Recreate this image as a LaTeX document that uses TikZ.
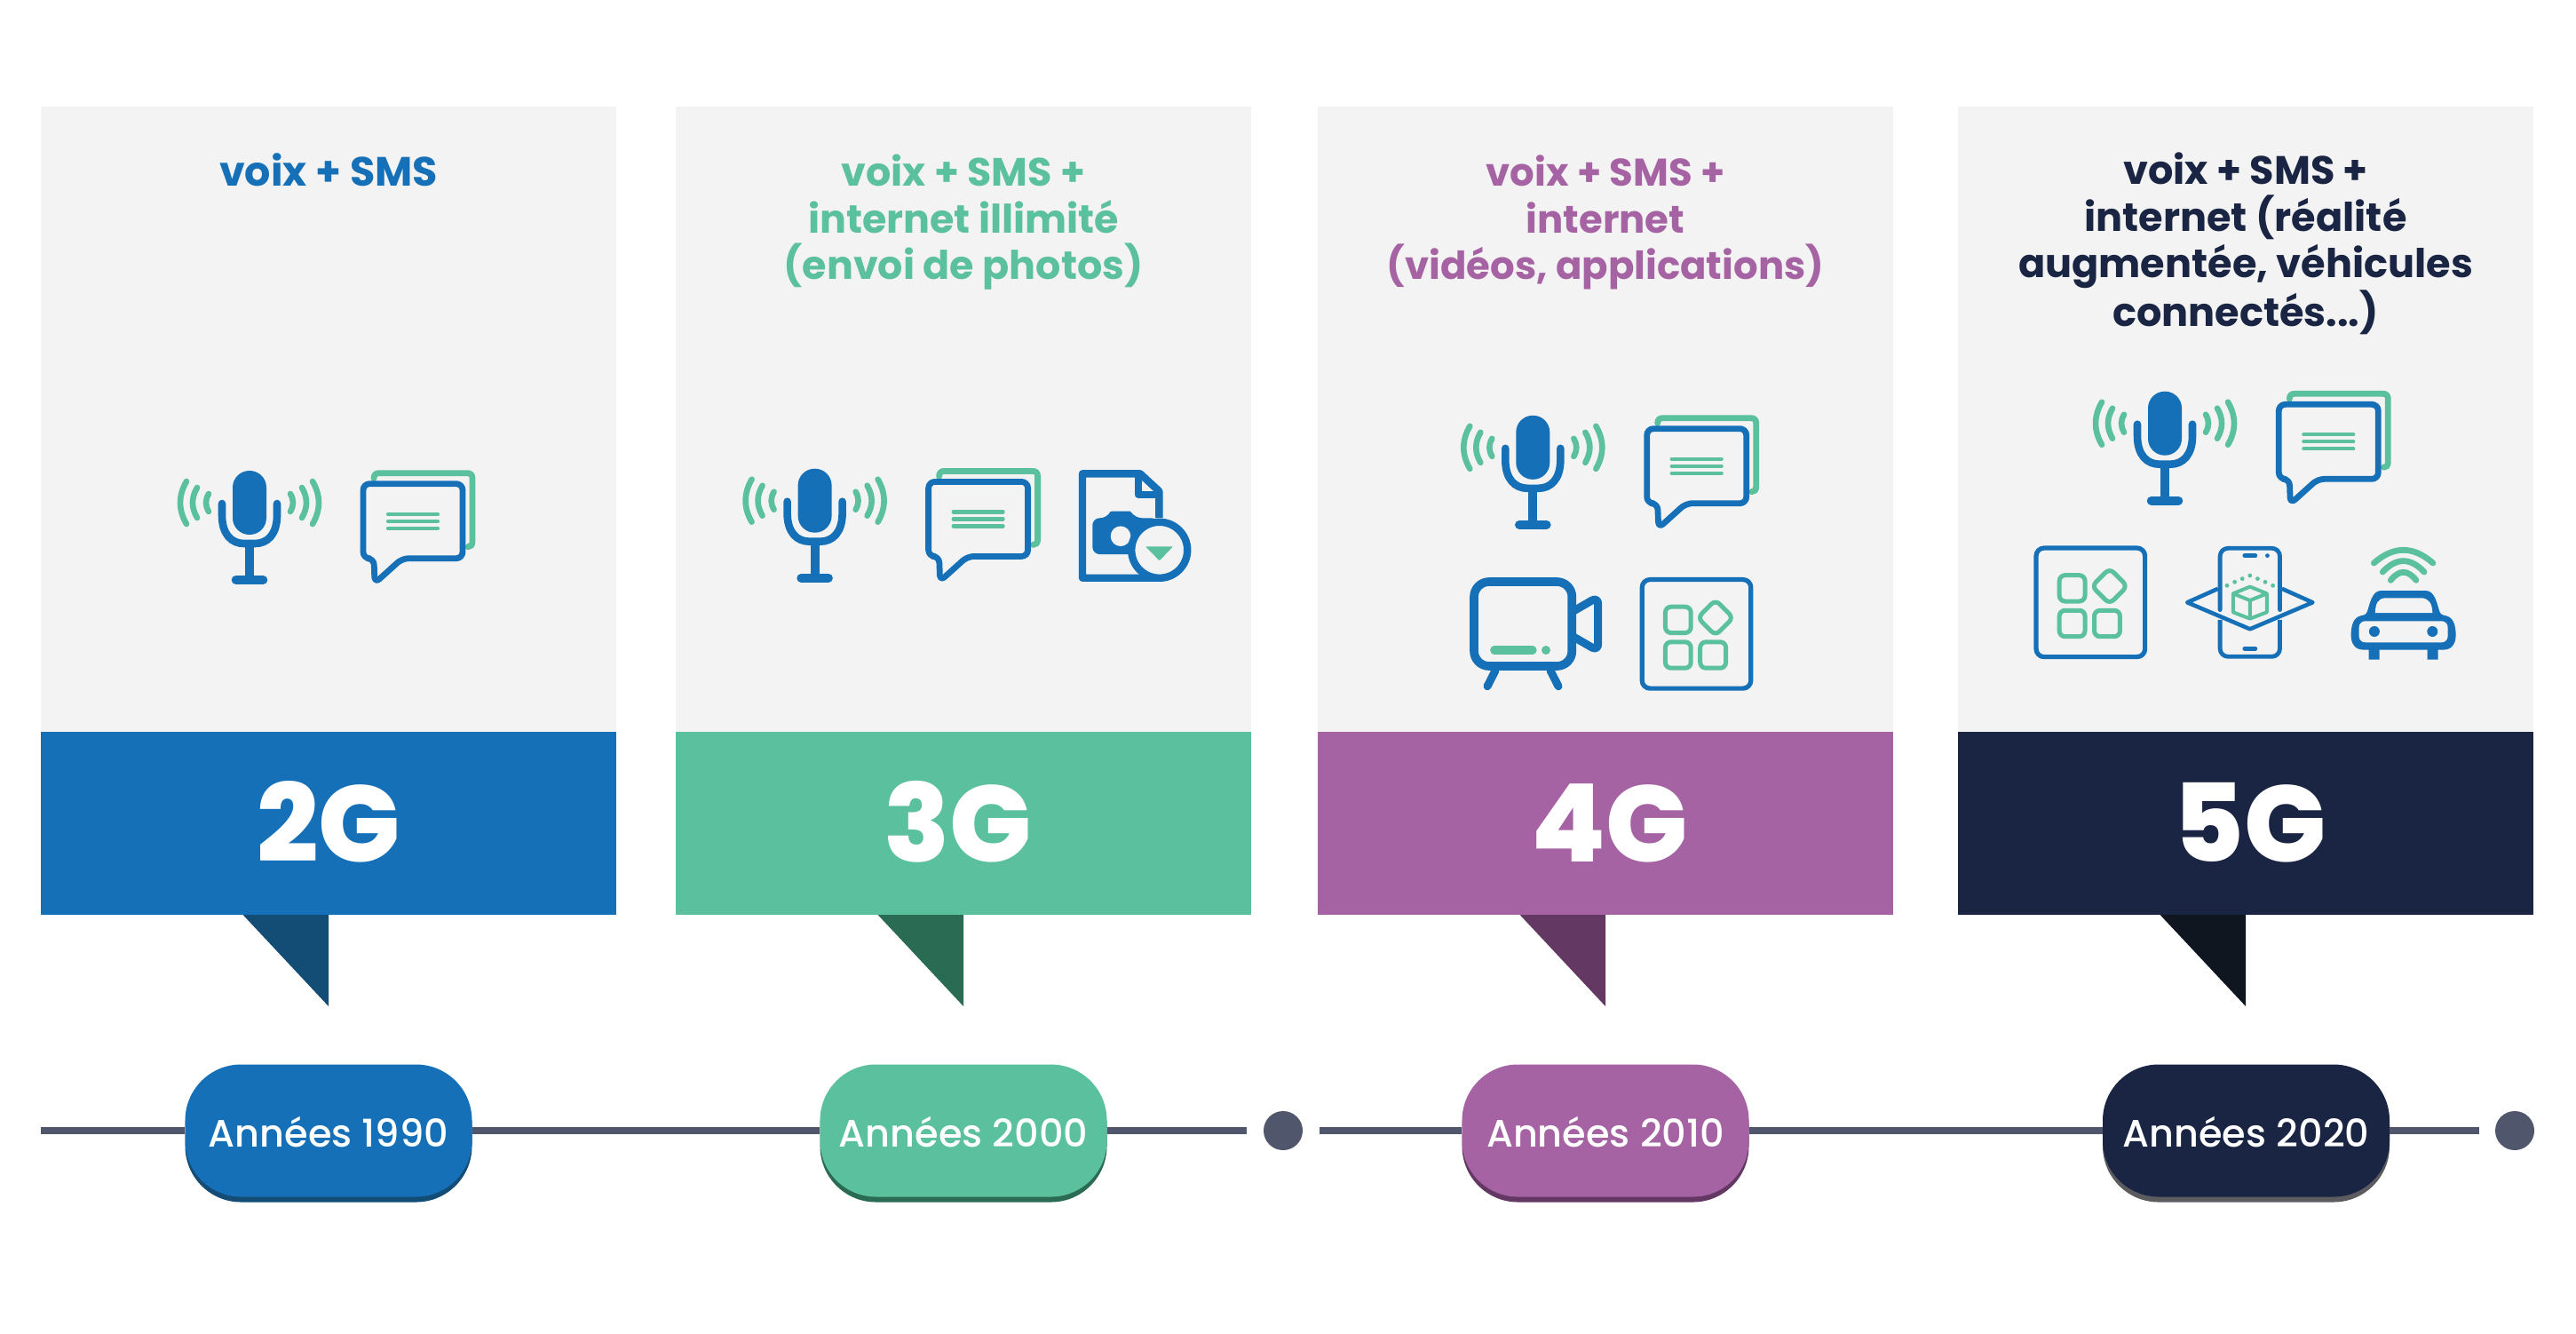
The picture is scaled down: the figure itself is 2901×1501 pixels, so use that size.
\documentclass[tikz,border=0pt]{standalone}
\usepackage{fontspec}
\setmainfont{Poppins}[BoldFont={Poppins Bold}]
\newfontfamily\medfont{Poppins Medium}
\newfontfamily\genfont{Poppins ExtraBold}
\definecolor{cblue}{HTML}{1570B7}
\definecolor{cgreen}{HTML}{5BC09D}
\definecolor{cpurple}{HTML}{A663A3}
\definecolor{cnavy}{HTML}{1A2544}
\definecolor{dblue}{HTML}{134C75}
\definecolor{dgreen}{HTML}{2A6B53}
\definecolor{dpurple}{HTML}{633963}
\definecolor{dnavy}{HTML}{10161F}
\definecolor{shadownavy}{HTML}{5C5C60}
\definecolor{panelgray}{HTML}{F3F3F3}
\definecolor{linegray}{HTML}{50566B}
\tikzset{
  x=0.5pt,y=-0.5pt,
  panelbox/.style={draw=none,fill=panelgray,inner sep=0pt,minimum width=324pt,minimum height=352pt,anchor=north west},
  barbox/.style={draw=none,inner sep=0pt,minimum width=324pt,minimum height=103.25pt,anchor=north west},
  pillbox/.style={draw=none,rounded corners=31.5pt,inner sep=0pt,minimum width=161.5pt,minimum height=74.5pt,text=white,
     font=\medfont\fontsize{21.5}{24}\selectfont,text height=18.4pt,text depth=0pt},
  gentext/.style={text=white,anchor=base,inner sep=0pt,font=\genfont\fontsize{61}{63}\selectfont},
  titletext/.style={anchor=base,align=center,inner sep=0pt},
  timeline/.style={draw=linegray,line width=4pt},
  dotnode/.style={circle,fill=linegray,draw=none,inner sep=0pt,minimum size=22pt},
  micicon/.pic={
    \draw[cgreen,line width=3.3pt,line cap=round]
      (-71,-24) .. controls (-80.3,-8) and (-80.3,8) .. (-71,24)
      (71,-24) .. controls (80.3,-8) and (80.3,8) .. (71,24);
    \draw[cgreen,line width=3.3pt,line cap=round]
      (-59,-17) .. controls (-65.7,-5.5) and (-65.7,5.5) .. (-59,17)
      (59,-17) .. controls (65.7,-5.5) and (65.7,5.5) .. (59,17);
    \draw[cgreen,line width=3.3pt,line cap=round]
      (-46,-10) .. controls (-50,-3) and (-50,3) .. (-46,10)
      (46,-10) .. controls (50,-3) and (50,3) .. (46,10);
    \fill[cblue,rounded corners=9.4pt] (-19,-36) rectangle (19,36);
    \draw[cblue,line width=4.3pt,line cap=round]
      (-31,1) -- (-31,14) .. controls (-31,36) and (-20,46) .. (-6,46) -- (6,46)
      .. controls (20,46) and (31,36) .. (31,14) -- (31,1);
    \draw[cblue,line width=5pt] (0,46) -- (0,87);
    \draw[cblue,line width=5pt,line cap=round] (-15.3,87) -- (15.3,87);
  },
  smsicon/.pic={
    \draw[cgreen,line width=3.4pt,line cap=round]
      (12,-6) .. controls (12,-10) and (14,-12) .. (18,-12) -- (117,-12)
      .. controls (121,-12) and (123,-10) .. (123,-6) -- (123,65)
      .. controls (123,69) and (121,71) .. (118,71);
    \draw[cblue,line width=3.4pt,line join=round,rounded corners=3.6pt]
      (0,0) -- (112,0) -- (112,84) -- (44,84) -- (13,112) -- (12,84) -- (0,84) -- cycle;
    \draw[cgreen,line width=2.1pt,line cap=round]
      (28,34) -- (84,34) (28,42) -- (84,42) (28,50) -- (84,50);
  },
  appsicon/.pic={
    \draw[cblue,line width=2.6pt,rounded corners=4.5pt] (0,0) rectangle (122.6,122.6);
    \draw[cgreen,line width=2.5pt,rounded corners=3.2pt]
      (26.2,30.7) rectangle (55,60)
      (26.2,70.3) rectangle (55,99.7)
      (65.5,70.3) rectangle (94.4,99.7)
      (82.7,23) -- (102.7,43) -- (82.7,63) -- (62.7,43) -- cycle;
  },
  photoicon/.pic={
    \draw[cblue,line width=4.2pt,line join=round]
      (165.3,143) -- (165.3,113) -- (144,93.3) -- (79,93.3) -- (79,210.7) -- (165,210.7);
    \draw[cblue,line width=4.2pt,line join=round]
      (141.7,93.3) -- (141.7,116.7) -- (165.3,116.7);
    \fill[cblue,rounded corners=4pt]
      (90.3,143.3) -- (107,143.3) .. controls (110,137) and (114,135.7) .. (120,135.7)
      -- (125,135.7) .. controls (131,135.7) and (134,137) .. (138,143.3)
      -- (165,143.3) -- (165,184) -- (90.3,184) -- cycle;
    \fill[panelgray] (122,163.7) circle (11.3);
    \filldraw[draw=cblue,fill=panelgray,line width=4.2pt] (165.7,179.3) circle (31.5);
    \fill[cgreen,rounded corners=0.4pt] (150,175.3) -- (181,175.3) -- (165.7,191.3) -- cycle;
  },
  videoicon/.pic={
    \draw[cblue,line width=4.85pt,rounded corners=8.5pt] (1660,655) rectangle (1770.3,750);
    \draw[cblue,line width=4.5pt,line join=round,rounded corners=4pt]
      (1772,688) -- (1799.7,672) -- (1799.7,733) -- (1772,717);
    \draw[cblue,line width=4.5pt,line cap=round]
      (1684,755) -- (1675,772.7) (1746,755) -- (1755,772.7);
    \draw[cgreen,line width=4.6pt,line cap=round] (1682.7,732) -- (1726,732);
    \fill[cgreen] (1741,732) circle (5);
  },
  phoneicon/.pic={
    \draw[cblue,line width=2.4pt,line cap=round,rounded corners=4.5pt]
      (-33.7,8.3) -- (-33.7,-61) -- (33.7,-61) -- (33.7,8.3);
    \draw[cblue,line width=2.4pt,rounded corners=4.5pt]
      (-33.7,19.5) -- (-33.7,61) -- (33.7,61) -- (33.7,19.5);
    \draw[cblue,line width=2.3pt,line join=round]
      (-36,-15.5) -- (-70.6,0) -- (0,30) -- (70.6,0) -- (36,-15.5);
    \draw[cblue,line width=2.4pt,line cap=round]
      (-6,-52.7) -- (6,-52.7) (-6,52) -- (6,52);
    \fill[cblue] (19.6,-52.7) circle (2.4);
    \draw[cgreen,line width=2pt,line join=round]
      (0,-17.7) -- (19,-10) -- (19,11) -- (0,18.3) -- (-19,11) -- (-19,-10) -- cycle
      (-19,-10) -- (0,-2.3) -- (19,-10) (0,-2.3) -- (0,18.3);
    \foreach \px/\py in {-25.8/-19,-17.2/-23,-8.6/-26.7,0/-30.3,8.6/-26.7,17.2/-23,25.8/-19}
      \fill[cgreen] (\px,\py) circle (2.4);
  },
  caricon/.pic={
    \draw[cgreen,line width=3.4pt,line cap=round]
      (-33.3,-69.3) .. controls (-11,-88.9) and (11,-88.9) .. (33.3,-69.3)
      (-23.4,-59.3) .. controls (-7.8,-75.8) and (7.8,-75.8) .. (23.4,-59.3)
      (-14.3,-50) .. controls (-4.8,-62) and (4.8,-62) .. (14.3,-50);
    \fill[cblue]
      (-25,-38.3) -- (25,-38.3) .. controls (36,-38.3) and (38,-22) .. (41,-14)
      .. controls (43,-10) and (46,-11) .. (48,-10) .. controls (56,-8) and (59,0) .. (59,12)
      .. controls (59,22) and (54,28.3) .. (45,28.3) -- (39,28.3) -- (39,39.3) -- (27,39.3) -- (27,28.3)
      -- (-27,28.3) -- (-27,39.3) -- (-39,39.3) -- (-39,28.3) -- (-45,28.3)
      .. controls (-54,28.3) and (-59,22) .. (-59,12) .. controls (-59,0) and (-56,-8) .. (-48,-10)
      .. controls (-46,-11) and (-43,-10) .. (-41,-14) .. controls (-38,-22) and (-36,-38.3) .. (-25,-38.3) -- cycle;
    \fill[panelgray]
      (-31.7,-13.3) -- (32.7,-13.3) .. controls (32.7,-24) and (28,-30) .. (20,-30)
      -- (-20,-30) .. controls (-28,-30) and (-31.7,-24) .. (-31.7,-13.3) -- cycle;
    \fill[panelgray,rounded corners=3.5pt] (-50,-4) rectangle (50,20);
    \fill[cblue] (-32.7,7.7) circle (6) (32.7,7.7) circle (6);
  },
}
\begin{document}
\begin{tikzpicture}
\useasboundingbox (0,0) rectangle (2901,1501);
\fill[white] (0,0) rectangle (2901,1501);
% panels
\node[panelbox] (panelA) at (46,120) {};
\node[panelbox] (panelB) at (761,120) {};
\node[panelbox] (panelC) at (1484,120) {};
\node[panelbox] (panelD) at (2205,120) {};
\node[barbox,fill=cblue] (barA) at (46,823.5) {};
\node[barbox,fill=cgreen] (barB) at (761,823.5) {};
\node[barbox,fill=cpurple] (barC) at (1484,823.5) {};
\node[barbox,fill=cnavy] (barD) at (2205,823.5) {};
% tails
\fill[dblue] (273.6,1030) -- (370,1030) -- (370,1133) -- cycle;
\fill[dgreen] (988.6,1030) -- (1085,1030) -- (1085,1133) -- cycle;
\fill[dpurple] (1711.6,1030) -- (1808,1030) -- (1808,1133) -- cycle;
\fill[dnavy] (2432.6,1030) -- (2529,1030) -- (2529,1133) -- cycle;
% generation labels
\node[gentext] (genA) at (370,970) {2G};
\node[gentext] (genB) at (1078.5,970) {3G};
\node[gentext] (genC) at (1812.8,970) {4G};
\node[gentext] (genD) at (2534,970) {5G};
% titles (placed by their last baseline)
\node[titletext,text=cblue,font=\bfseries\fontsize{23}{26.35}\selectfont] (titleA) at (370,209.3) {voix + SMS};
\node[titletext,text=cgreen,font=\bfseries\fontsize{22.2}{26.35}\selectfont] (titleB) at (1085,314.7) {voix + SMS +\\internet illimité\\(envoi de photos)};
\node[titletext,text=cpurple,font=\bfseries\fontsize{21.7}{26.35}\selectfont] (titleC) at (1808,314.7) {voix + SMS +\\internet\\(vidéos, applications)};
\node[titletext,text=cnavy,font=\bfseries\fontsize{22.3}{26.35}\selectfont] (titleD) at (2529,367.7) {voix + SMS +\\internet (réalité\\augmentée, véhicules\\connectés...)};
% icons
\pic at (281,566) {micicon};
\pic at (409,544.7) {smsicon};
\pic at (917.6,563.7) {micicon};
\pic at (1045.6,542.4) {smsicon};
\pic at (1140,440) {photoicon};
\pic at (1726.3,503.8) {micicon};
\pic at (1854.7,482.7) {smsicon};
\pic at (0,0) {videoicon};
\pic at (1849.2,652.5) {appsicon};
\pic at (2438,476.7) {micicon};
\pic at (2566.3,455.3) {smsicon};
\pic at (2293,617) {appsicon};
\pic at (2533.8,678.3) {phoneicon};
\pic at (2706.6,703.3) {caricon};
% timeline
\coordinate (startA) at (46,1273);
\coordinate (endA) at (1404,1273);
\coordinate (startB) at (1486,1273);
\coordinate (endB) at (2792,1273);
\node[dotnode] (dotA) at (1445,1273) {};
\node[dotnode] (dotB) at (2832,1273) {};
\node[pillbox,fill=dblue] (shA) at (370,1279) {};
\node[pillbox,fill=dgreen] (shB) at (1085,1279) {};
\node[pillbox,fill=dpurple] (shC) at (1808,1279) {};
\node[pillbox,fill=shadownavy] (shD) at (2529.5,1279) {};
\node[pillbox,fill=cblue] (pillA) at (370,1273) {Années 1990};
\node[pillbox,fill=cgreen] (pillB) at (1085,1273) {Années 2000};
\node[pillbox,fill=cpurple] (pillC) at (1808,1273) {Années 2010};
\node[pillbox,fill=cnavy] (pillD) at (2529.5,1273) {Années 2020};
\draw[timeline] (startA) -- (pillA.west);
\draw[timeline] (pillA.east) -- (pillB.west);
\draw[timeline] (pillB.east) -- (endA);
\draw[timeline] (startB) -- (pillC.west);
\draw[timeline] (pillC.east) -- (pillD.west);
\draw[timeline] (pillD.east) -- (endB);
\end{tikzpicture}
\end{document}
